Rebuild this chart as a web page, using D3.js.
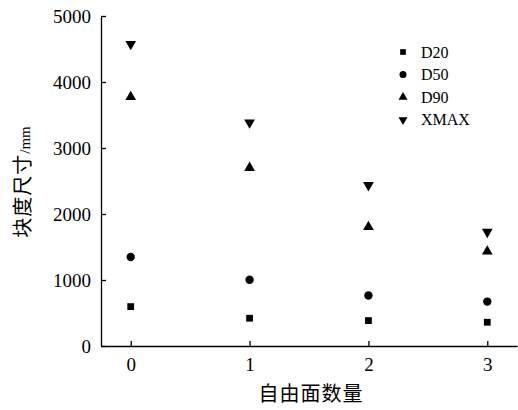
<!DOCTYPE html>
<html><head><meta charset="utf-8">
<script src="https://cdn.jsdelivr.net/npm/d3@7"></script>
<style>body{margin:0;background:#fff;}svg{display:block;}</style>
</head><body>
<svg id="c" width="518" height="410"></svg>
<script>
const categories = [0, 1, 2, 3];
const seriesNames = ["D20", "D50", "D90", "XMAX"];
const D20 = [597, 421, 385, 360];
const D50 = [1348, 1003, 765, 673];
const D90 = [3774, 2700, 1804, 1433];
const XMAX = [4574, 3385, 2436, 1728];
const yTicks = [0, 1000, 2000, 3000, 4000, 5000];
const xTicks = [0, 1, 2, 3];
const xTitle = "自由面数量";
const yTitle = "块度尺寸";
const yUnit = "/mm";

const seriesValues = [D20, D50, D90, XMAX];
const symbols = [d3.symbolSquare, d3.symbolCircle, d3.symbolTriangle, d3.symbolTriangle];
const sizes = [46, 55, 50, 50];
const rotations = [0, 0, 0, 180];

const svg = d3.select("#c");
const serif = "'Liberation Serif','Times New Roman',serif";
const cjk = "'Noto Sans CJK SC',sans-serif";
const x = d3.scaleLinear().domain([-0.25, 3.25]).range([101, 517]);
const y = d3.scaleLinear().domain([0, 5000]).range([346, 16]);

const gx = svg.append("g").attr("transform", "translate(0,346)")
  .call(d3.axisBottom(x).tickValues(xTicks).tickSizeInner(-5).tickSizeOuter(0).tickPadding(12).tickFormat(d3.format("d")));
const gy = svg.append("g").attr("transform", "translate(101,0)")
  .call(d3.axisLeft(y).tickValues(yTicks).tickSizeInner(-5).tickSizeOuter(0).tickPadding(10).tickFormat(d3.format("d")));
[gx, gy].forEach(g => {
  g.attr("font-family", null).attr("font-size", null);
  g.selectAll("path,line").attr("stroke", "#000").attr("stroke-width", 1.3);
  g.selectAll("text").style("font-family", serif).style("font-size", "19px").attr("fill", "#000");
});

seriesValues.forEach((vals, si) => {
  svg.append("g").selectAll("path").data(vals).join("path")
    .attr("d", d3.symbol().type(symbols[si]).size(sizes[si]))
    .attr("transform", (d, i) => `translate(${x(categories[i])},${y(d)}) rotate(${rotations[si]})`)
    .attr("fill", "#000");
});

const leg = svg.append("g");
seriesNames.forEach((n, i) => {
  const yy = 52 + i * 22.6;
  leg.append("path").attr("d", d3.symbol().type(symbols[i]).size(sizes[i] * 0.7)())
    .attr("transform", `translate(403,${yy}) rotate(${rotations[i]})`).attr("fill", "#000");
  leg.append("text").attr("x", 421).attr("y", yy + 5.5).text(n)
    .style("font-family", serif).style("font-size", "16px").attr("fill", "#000");
});

svg.append("text").attr("x", 311).attr("y", 401).attr("text-anchor", "middle")
  .style("font-family", cjk).style("font-size", "20px")
  .attr("letter-spacing", 1).text(xTitle);

const yt = svg.append("text").attr("transform", "translate(30,182) rotate(-90)")
  .attr("text-anchor", "middle");
yt.append("tspan").style("font-family", cjk).style("font-size", "20px").attr("letter-spacing", 1).text(yTitle);
yt.append("tspan").style("font-family", serif).style("font-size", "15px").text(yUnit);
</script>
</body></html>
